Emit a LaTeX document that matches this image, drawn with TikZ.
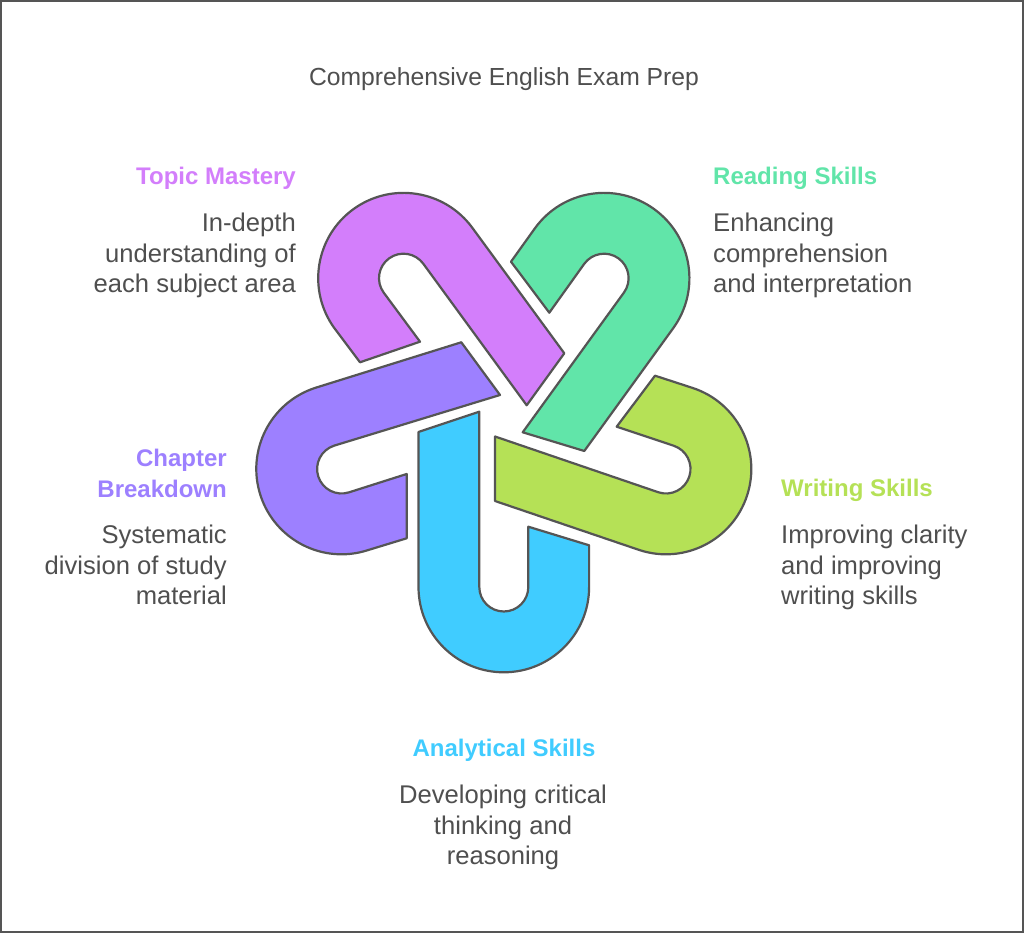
\documentclass[tikz,border=0pt]{standalone}
\usetikzlibrary{calc}
\usepackage{fontspec}
\setmainfont{Liberation Sans}
\definecolor{cpink}{HTML}{D37EFB}
\definecolor{cteal}{HTML}{61E5A9}
\definecolor{clime}{HTML}{B5E156}
\definecolor{cblue}{HTML}{40CCFF}
\definecolor{cviolet}{HTML}{9D80FF}
\definecolor{cink}{HTML}{555555}
\definecolor{ctext}{HTML}{4F4F4F}
\tikzset{
  x=1pt,y=1pt,
  loop/.style={draw=cink,line width=2.2pt,line join=round},
  head/.style={font=\fontsize{24}{30.5}\selectfont\bfseries,inner sep=0pt},
  body/.style={font=\fontsize{25.6}{30.5}\selectfont,text=ctext,inner sep=0pt},
  titletext/.style={font=\fontsize{24.7}{30.5}\selectfont,text=ctext,inner sep=0pt},
}
% #1 colour, #2 arc centre, #3 turn; #4-#7 the four arm corners, in y-up reference pixels
\newcommand{\loopshape}[7]{%
  \fill[#1,loop] #4 -- #5 -- ($#2+(180+#3:24.5)$)
    arc[start angle=180+#3,delta angle=180,radius=24.5]
    -- #6 -- #7 -- ($#2+(#3:85.3)$)
    arc[start angle=#3,delta angle=-180,radius=85.3] -- cycle;}
\begin{document}
\begin{tikzpicture}
\useasboundingbox (0,0) rectangle (1024,933);
\draw[draw=cink,line width=2pt,fill=white] (1,1) rectangle (1023,932);
\loopshape{cblue}{(503.8,346)}{0}{(418.5,501)}{(479.3,521.3)}{(528.3,406.3)}{(589.1,387.7)}
\loopshape{cviolet}{(341.6,464)}{-72}{(461.3,590.7)}{(500,538)}{(406.7,459)}{(406.7,394.7)}
\loopshape{cpink}{(403.5,654.8)}{-144}{(564.3,579.7)}{(526.7,527.7)}{(420,591.3)}{(360,570.7)}
\loopshape{cteal}{(604.1,654.8)}{144}{(584.3,482)}{(522.7,500.7)}{(549.3,620.3)}{(511,671.3)}
\loopshape{clime}{(666,464)}{72}{(495,432)}{(495,496.5)}{(616.7,506.3)}{(655,557.3)}
\node[titletext,anchor=base] (title) at (504,847) {Comprehensive English Exam Prep};
\node[head,text=cpink,anchor=base east] (h1) at (296,748) {Topic Mastery};
\node[body,align=right,anchor=north east] (b1) at (296,720) {In-depth\\understanding of\\each subject area};
\node[head,text=cteal,anchor=base west] (h2) at (713,748) {Reading Skills};
\node[body,align=left,anchor=north west] (b2) at (713,720) {Enhancing\\comprehension\\and interpretation};
\node[head,text=cviolet,align=right,anchor=north east] (h3) at (227,484) {Chapter\\Breakdown};
\node[body,align=right,anchor=north east] (b3) at (227,408) {Systematic\\division of study\\material};
\node[head,text=clime,anchor=base west] (h4) at (781,436) {Writing Skills};
\node[body,align=left,anchor=north west] (b4) at (781,408) {Improving clarity\\and improving\\writing skills};
\node[head,text=cblue,anchor=base] (h5) at (504,176) {Analytical Skills};
\node[body,align=center,anchor=north] (b5) at (503,148) {Developing critical\\thinking and\\reasoning};
\end{tikzpicture}
\end{document}
